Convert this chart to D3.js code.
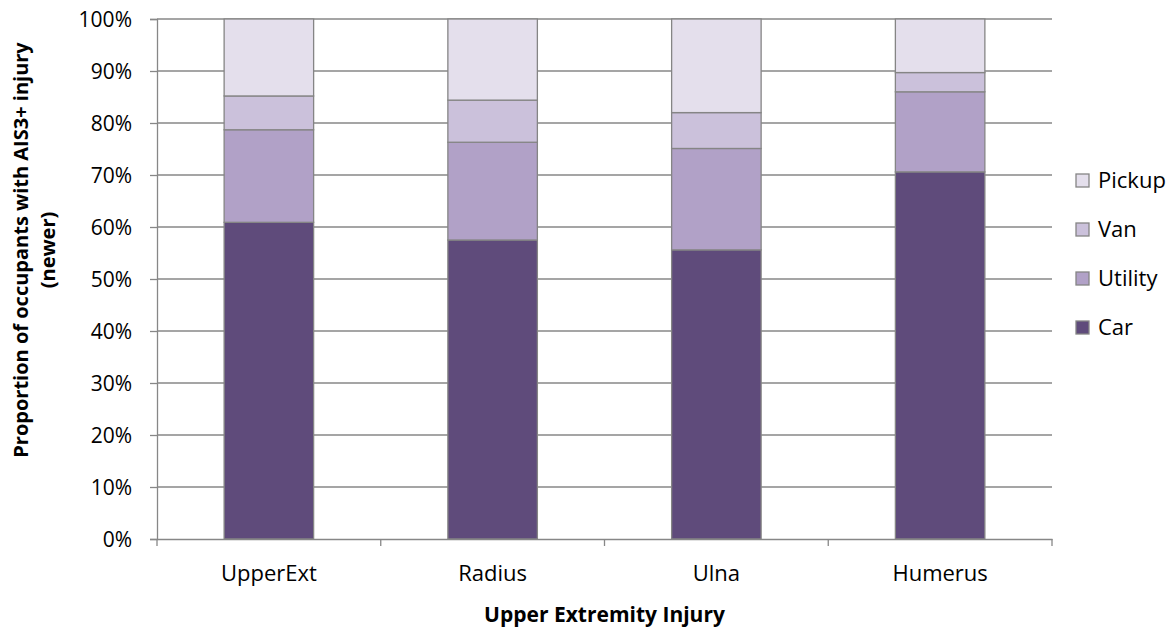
<!DOCTYPE html>
<html>
<head>
<meta charset="utf-8">
<script src="https://cdn.jsdelivr.net/npm/d3@7"></script>
<style>
  body { margin: 0; background: #fff; }
  text { font-family: "Open Sans", "Noto Sans", sans-serif; fill: #000; }
</style>
</head>
<body>
<div id="chart-area"></div>
<script>
// data (percent of occupants)
var categories = ["UpperExt", "Radius", "Ulna", "Humerus"];
var seriesNames = ["Car", "Utility", "Van", "Pickup"];
var car     = [60.9, 57.5, 55.6, 70.6];
var utility = [17.8, 18.8, 19.5, 15.4];
var van     = [6.5, 8.1, 6.9, 3.7];
var pickup  = [14.8, 15.6, 18.0, 10.3];
var yTicks = [0, 10, 20, 30, 40, 50, 60, 70, 80, 90, 100];

var colors = ["#5f4b7b", "#b1a1c7", "#cbc1db", "#e4dfec"];

var W = 1175, H = 629;
var plotL = 157, plotR = 1052, plotT = 19, plotB = 539;

var svg = d3.select("#chart-area").append("svg")
    .attr("width", W)
    .attr("height", H);

var table = categories.map(function(c, i) {
    return { cat: c, Car: car[i], Utility: utility[i], Van: van[i], Pickup: pickup[i] };
});
var stacked = d3.stack().keys(seriesNames)(table);

var x = d3.scaleBand().domain(categories).range([plotL, plotR]).paddingInner(0.6).paddingOuter(0.3);
var xOuter = d3.scaleBand().domain(categories).range([plotL, plotR]);
var y = d3.scaleLinear().domain([0, 100]).range([plotB, plotT]);

// gridlines
svg.append("g").selectAll("line")
    .data(yTicks.slice(1))
    .enter().append("line")
    .attr("x1", plotL).attr("x2", plotR)
    .attr("y1", d => y(d)).attr("y2", d => y(d))
    .attr("stroke", "#878787").attr("stroke-width", 1.3);

// y axis
var yAxis = svg.append("g")
    .attr("transform", "translate(" + plotL + ",0)")
    .call(d3.axisLeft(y).tickValues(yTicks).tickFormat(d => d + "%").tickSize(7).tickPadding(18));
yAxis.select(".domain").attr("stroke", "#878787").attr("stroke-width", 1.3);
yAxis.selectAll(".tick line").attr("stroke", "#878787").attr("stroke-width", 1.3);
yAxis.selectAll("text").attr("font-size", "21px").attr("font-family", "Open Sans")
    .attr("fill", "#000").attr("dy", "0.37em");

// bars
svg.append("g").selectAll("g")
    .data(stacked)
    .enter().append("g")
    .attr("fill", (d, i) => colors[i])
    .selectAll("rect")
    .data(d => d)
    .enter().append("rect")
    .attr("x", d => x(d.data.cat))
    .attr("width", x.bandwidth())
    .attr("y", d => y(d[1]))
    .attr("height", d => y(d[0]) - y(d[1]))
    .attr("stroke", "#858585")
    .attr("stroke-width", 1.3);

// x axis
var xAxis = svg.append("g")
    .attr("transform", "translate(0," + plotB + ")")
    .call(d3.axisBottom(xOuter).tickSize(0));
xAxis.select(".domain").attr("stroke", "#878787").attr("stroke-width", 1.3);
xAxis.selectAll("text").attr("font-size", "22px").attr("font-family", "Open Sans")
    .attr("fill", "#000").attr("y", 42).attr("dy", 0);
svg.append("g").selectAll("line")
    .data(d3.range(categories.length + 1))
    .enter().append("line")
    .attr("x1", i => plotL + i * xOuter.step()).attr("x2", i => plotL + i * xOuter.step())
    .attr("y1", plotB).attr("y2", plotB + 7)
    .attr("stroke", "#878787").attr("stroke-width", 1.3);

// axis titles
svg.append("text")
    .attr("x", (plotL + plotR) / 2).attr("y", 622)
    .attr("text-anchor", "middle")
    .attr("font-size", "21px").attr("font-weight", "bold")
    .text("Upper Extremity Injury");

var yt = svg.append("text")
    .attr("transform", "translate(28,250) rotate(-90)")
    .attr("text-anchor", "middle")
    .attr("font-size", "20px").attr("font-weight", "bold");
yt.append("tspan").attr("x", 0).attr("dy", 0).text("Proportion of occupants with AIS3+ injury");
yt.append("tspan").attr("x", 0).attr("dy", 27).text("(newer)");

// legend (reverse order, Pickup on top)
var legend = svg.append("g").selectAll("g")
    .data(seriesNames.slice().reverse())
    .enter().append("g")
    .attr("transform", (d, i) => "translate(1076," + (174 + i * 49) + ")");
legend.append("rect")
    .attr("width", 13).attr("height", 13)
    .attr("fill", d => colors[seriesNames.indexOf(d)])
    .attr("stroke", "#858585").attr("stroke-width", 1.3);
legend.append("text")
    .attr("x", 22).attr("y", 14)
    .attr("font-size", "22px")
    .text(d => d);
</script>
</body>
</html>
